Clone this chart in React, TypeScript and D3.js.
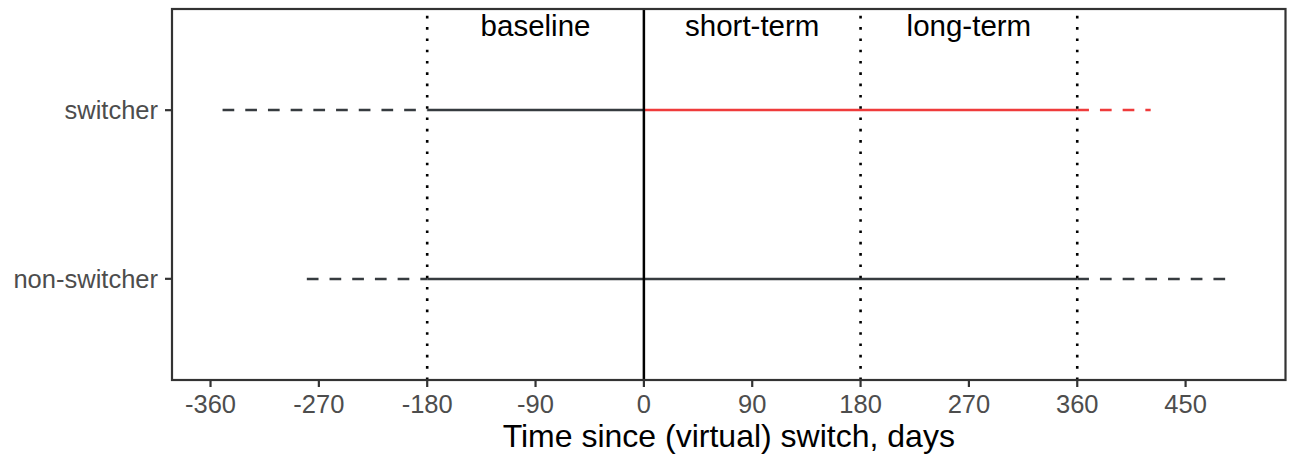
import React from "react";
import * as d3 from "d3";

// ---- data ----
const groups = ["non-switcher", "switcher"]; // bottom to top
const segGroup = ["switcher", "switcher", "switcher", "switcher", "non-switcher", "non-switcher", "non-switcher"];
const segStart = [-350, -180, 0, 360, -280, -180, 360];
const segEnd = [-180, 0, 360, 421, -180, 360, 484];
const segKind = ["outside", "inside", "inside-switch", "outside-switch", "outside", "inside", "outside"];
const xTicks = [-360, -270, -180, -90, 0, 90, 180, 270, 360, 450];
const dottedLines = [-180, 180, 360];
const solidLines = [0];
const periodLabels = ["baseline", "short-term", "long-term"];
const periodMid = [-90, 90, 270];
const xTitle = "Time since (virtual) switch, days";

const W = 1294, H = 456;
const L = 172, R = 1285.5, T = 9, B = 380;
const DARK = "#363b3f";
const RED = "#ef3b3b";
const FONT = "'Liberation Sans', Arial, Helvetica, sans-serif";

export default function App() {
  const x = d3.scaleLinear().domain([-392, 533]).range([L, R]);
  const y = d3.scalePoint<string>().domain(groups).range([B, T]).padding(0.6);

  const styleOf = (k: string) => ({
    stroke: k.includes("switch") ? RED : DARK,
    dash: k.startsWith("outside") ? "11.7 11" : undefined,
  });

  return (
    <svg width={W} height={H} style={{ position: "absolute", left: 0, top: 0, background: "#fff" }} fontFamily={FONT}>
      <rect x={0} y={0} width={W} height={H} fill="#fff" />
      {/* segments */}
      {segStart.map((s, i) => {
        const st = styleOf(segKind[i]);
        const yy = Math.round(y(segGroup[i])!);
        return (
          <line key={"s" + i} x1={x(s)} x2={x(segEnd[i])} y1={yy} y2={yy}
            stroke={st.stroke} strokeWidth={2.5} strokeDasharray={st.dash} />
        );
      })}
      {/* vertical lines */}
      {dottedLines.map((v, i) => (
        <line key={"d" + i} x1={x(v)} x2={x(v)} y1={B} y2={T} stroke="#000" strokeWidth={2.6} strokeDasharray="2.6 8.7" />
      ))}
      {solidLines.map((v, i) => (
        <line key={"v" + i} x1={x(v)} x2={x(v)} y1={B} y2={T} stroke="#000" strokeWidth={2.5} />
      ))}
      {/* period labels */}
      {periodLabels.map((t, i) => (
        <text key={"p" + i} x={x(periodMid[i])} y={36} textAnchor="middle" fontSize={29.5} fill="#000">{t}</text>
      ))}
      {/* panel border */}
      <rect x={L} y={T} width={R - L} height={B - T} fill="none" stroke="#333" strokeWidth={2.2} />
      {/* x axis */}
      {xTicks.map((t) => (
        <g key={"x" + t}>
          <line x1={x(t)} x2={x(t)} y1={B} y2={B + 7} stroke="#333" strokeWidth={2.2} />
          <text x={x(t)} y={413} textAnchor="middle" fontSize={25.5} fill="#4d4d4d">{t}</text>
        </g>
      ))}
      {/* y axis */}
      {groups.map((g) => (
        <g key={"y" + g}>
          <line x1={L - 7} x2={L} y1={y(g)} y2={y(g)} stroke="#333" strokeWidth={2.2} />
          <text x={L - 14} y={y(g)! + 9} textAnchor="end" fontSize={25.5} fill="#4d4d4d">{g}</text>
        </g>
      ))}
      <text x={(L + R) / 2} y={447} textAnchor="middle" fontSize={32} fill="#000">{xTitle}</text>
    </svg>
  );
}
